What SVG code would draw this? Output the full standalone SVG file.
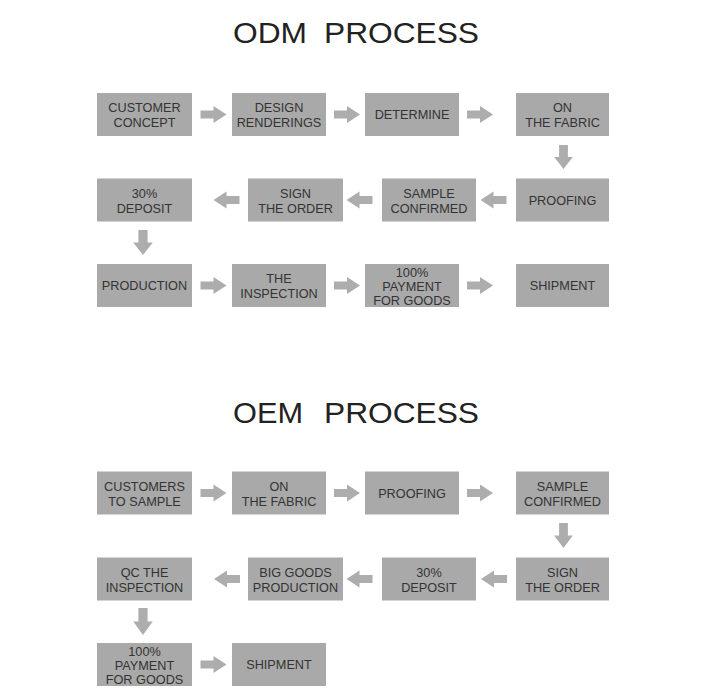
<svg xmlns="http://www.w3.org/2000/svg" width="707" height="698" viewBox="0 0 707 698">
<style>
.bg{fill:#ffffff}
.box{fill:#a9a9a9}
.t{font-family:"Liberation Sans",Arial,sans-serif;font-size:12.7px;fill:#333333;text-anchor:middle}
.title{font-family:"Liberation Sans",Arial,sans-serif;font-size:30px;fill:#222222}
.arr{fill:#adadad}
</style>
<defs>
<path id="ar" d="M-13,-4 H0 V-8.5 L13,0 L0,8.5 V4 H-13 Z"/>
</defs>
<rect class="bg" x="0" y="0" width="707" height="698"/>

<g id="titles">
<text class="title" x="233" y="42.5" textLength="74" lengthAdjust="spacingAndGlyphs">ODM</text>
<text class="title" x="324" y="42.5" textLength="155" lengthAdjust="spacingAndGlyphs">PROCESS</text>
<text class="title" x="233" y="423" textLength="70" lengthAdjust="spacingAndGlyphs">OEM</text>
<text class="title" x="324" y="423" textLength="155" lengthAdjust="spacingAndGlyphs">PROCESS</text>
</g>

<!-- ODM nodes -->
<g id="odm-customer-concept"><rect class="box" x="97" y="93" width="95" height="43"/><text class="t" x="144.5" y="112">CUSTOMER</text><text class="t" x="144.5" y="127">CONCEPT</text></g>
<g id="odm-design-renderings"><rect class="box" x="232" y="93" width="94" height="43"/><text class="t" x="279" y="112">DESIGN</text><text class="t" x="279" y="127">RENDERINGS</text></g>
<g id="odm-determine"><rect class="box" x="365" y="93" width="94" height="43"/><text class="t" x="412" y="119">DETERMINE</text></g>
<g id="odm-on-the-fabric"><rect class="box" x="516" y="93" width="93" height="43"/><text class="t" x="562.5" y="112">ON</text><text class="t" x="562.5" y="127">THE FABRIC</text></g>

<g id="odm-deposit"><rect class="box" x="97" y="178.5" width="95" height="43"/><text class="t" x="144.5" y="197.5">30%</text><text class="t" x="144.5" y="212.5">DEPOSIT</text></g>
<g id="odm-sign-order"><rect class="box" x="248" y="178.5" width="95" height="43"/><text class="t" x="295.5" y="197.5">SIGN</text><text class="t" x="295.5" y="212.5">THE ORDER</text></g>
<g id="odm-sample-confirmed"><rect class="box" x="382" y="178.5" width="94" height="43"/><text class="t" x="429" y="197.5">SAMPLE</text><text class="t" x="429" y="212.5">CONFIRMED</text></g>
<g id="odm-proofing"><rect class="box" x="516" y="178.5" width="93" height="43"/><text class="t" x="562.5" y="204.5">PROOFING</text></g>

<g id="odm-production"><rect class="box" x="97" y="264" width="95" height="43"/><text class="t" x="144.5" y="290">PRODUCTION</text></g>
<g id="odm-inspection"><rect class="box" x="232" y="264" width="94" height="43"/><text class="t" x="279" y="283">THE</text><text class="t" x="279" y="298">INSPECTION</text></g>
<g id="odm-payment"><rect class="box" x="365" y="264" width="94" height="43"/><text class="t" x="412" y="277">100%</text><text class="t" x="412" y="291">PAYMENT</text><text class="t" x="412" y="305">FOR GOODS</text></g>
<g id="odm-shipment"><rect class="box" x="516" y="264" width="93" height="43"/><text class="t" x="562.5" y="290">SHIPMENT</text></g>

<!-- OEM nodes -->
<g id="oem-customers-sample"><rect class="box" x="97" y="471.5" width="95" height="43"/><text class="t" x="144.5" y="490.5">CUSTOMERS</text><text class="t" x="144.5" y="505.5">TO SAMPLE</text></g>
<g id="oem-on-the-fabric"><rect class="box" x="232" y="471.5" width="94" height="43"/><text class="t" x="279" y="490.5">ON</text><text class="t" x="279" y="505.5">THE FABRIC</text></g>
<g id="oem-proofing"><rect class="box" x="365" y="471.5" width="94" height="43"/><text class="t" x="412" y="497.5">PROOFING</text></g>
<g id="oem-sample-confirmed"><rect class="box" x="516" y="471.5" width="93" height="43"/><text class="t" x="562.5" y="490.5">SAMPLE</text><text class="t" x="562.5" y="505.5">CONFIRMED</text></g>

<g id="oem-qc-inspection"><rect class="box" x="97" y="557.5" width="95" height="43"/><text class="t" x="144.5" y="576.5">QC THE</text><text class="t" x="144.5" y="591.5">INSPECTION</text></g>
<g id="oem-big-goods"><rect class="box" x="248" y="557.5" width="95" height="43"/><text class="t" x="295.5" y="576.5">BIG GOODS</text><text class="t" x="295.5" y="591.5">PRODUCTION</text></g>
<g id="oem-deposit"><rect class="box" x="382" y="557.5" width="94" height="43"/><text class="t" x="429" y="576.5">30%</text><text class="t" x="429" y="591.5">DEPOSIT</text></g>
<g id="oem-sign-order"><rect class="box" x="516" y="557.5" width="93" height="43"/><text class="t" x="562.5" y="576.5">SIGN</text><text class="t" x="562.5" y="591.5">THE ORDER</text></g>

<g id="oem-payment"><rect class="box" x="97" y="643" width="95" height="43"/><text class="t" x="144.5" y="656">100%</text><text class="t" x="144.5" y="670">PAYMENT</text><text class="t" x="144.5" y="684">FOR GOODS</text></g>
<g id="oem-shipment"><rect class="box" x="232" y="643" width="94" height="43"/><text class="t" x="279" y="669">SHIPMENT</text></g>

<g id="connectors" class="arr">
<!-- ODM row 1 -->
<use href="#ar" transform="translate(213.5,114.5)"/>
<use href="#ar" transform="translate(347,114.5)"/>
<use href="#ar" transform="translate(480,114.5)"/>
<use href="#ar" transform="translate(563.5,157) rotate(90) scale(0.92,1.1)"/>
<!-- ODM row 2 -->
<use href="#ar" transform="translate(493.5,200) rotate(180)"/>
<use href="#ar" transform="translate(359.5,200) rotate(180)"/>
<use href="#ar" transform="translate(226.5,200) rotate(180)"/>
<use href="#ar" transform="translate(143,242.5) rotate(90) scale(0.96,1.15)"/>
<!-- ODM row 3 -->
<use href="#ar" transform="translate(213.5,285.5)"/>
<use href="#ar" transform="translate(347,285.5)"/>
<use href="#ar" transform="translate(480,285.5)"/>
<!-- OEM row 1 -->
<use href="#ar" transform="translate(213.5,493)"/>
<use href="#ar" transform="translate(347,493)"/>
<use href="#ar" transform="translate(480,493)"/>
<use href="#ar" transform="translate(563.5,535.5) rotate(90) scale(0.96,1.1)"/>
<!-- OEM row 2 -->
<use href="#ar" transform="translate(494,579) rotate(180)"/>
<use href="#ar" transform="translate(359.5,579) rotate(180)"/>
<use href="#ar" transform="translate(227,579) rotate(180)"/>
<use href="#ar" transform="translate(143,621.5) rotate(90) scale(1.04,1.15)"/>
<!-- OEM row 3 -->
<use href="#ar" transform="translate(213.5,664.5)"/>
</g>
</svg>
